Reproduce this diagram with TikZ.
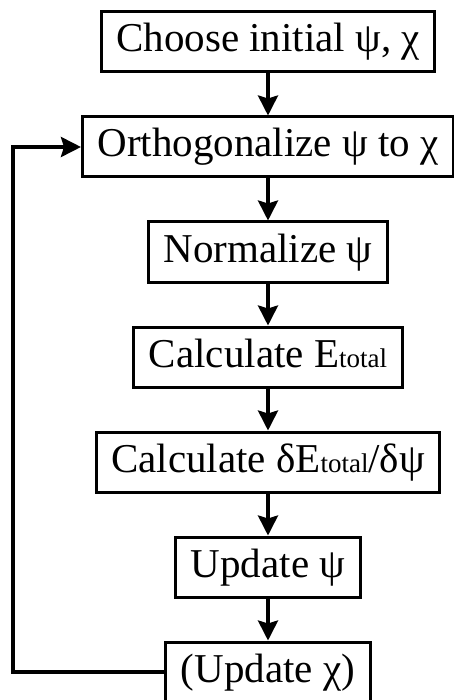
\documentclass[tikz,border=0pt]{standalone}
\usepackage{fontspec}
\setmainfont{Liberation Serif}
\usepackage{tikz}
\usetikzlibrary{arrows.meta, positioning}
\newcommand{\tot}{{\fontsize{27}{30}\selectfont total}}

\begin{document}
\begin{tikzpicture}[
  x=1pt, y=1pt,
  node distance=42pt,
  n/.style={draw, line width=3pt, minimum height=60pt, inner xsep=15pt,
            text height=29pt, text depth=9pt, font=\fontsize{41}{46}\selectfont},
  a/.style={-{Stealth[length=20pt, width=20pt, inset=3pt]}, line width=3.5pt}
]
  \useasboundingbox (0,0) rectangle (453,-700);
  \node[n] (init) at (268,-42) {Choose initial ψ, χ};
  \node[n] (orth) [below=of init] {Orthogonalize ψ to χ};
  \node[n] (norm) [below=of orth] {Normalize ψ};
  \node[n] (etot) [below=of norm] {Calculate E\tot};
  \node[n] (grad) [below=of etot] {Calculate δE\tot/δψ};
  \node[n] (updpsi) [below=of grad] {Update ψ};
  \node[n] (updchi) [below=of updpsi] {(Update χ)};
  \coordinate (loopx) at (13,0);

  \draw[a] (init) -- (orth);
  \draw[a] (orth) -- (norm);
  \draw[a] (norm) -- (etot);
  \draw[a] (etot) -- (grad);
  \draw[a] (grad) -- (updpsi);
  \draw[a] (updpsi) -- (updchi);
  \draw[a] (updchi.west) -- (updchi.west -| loopx) |- (orth.west);
\end{tikzpicture}
\end{document}
